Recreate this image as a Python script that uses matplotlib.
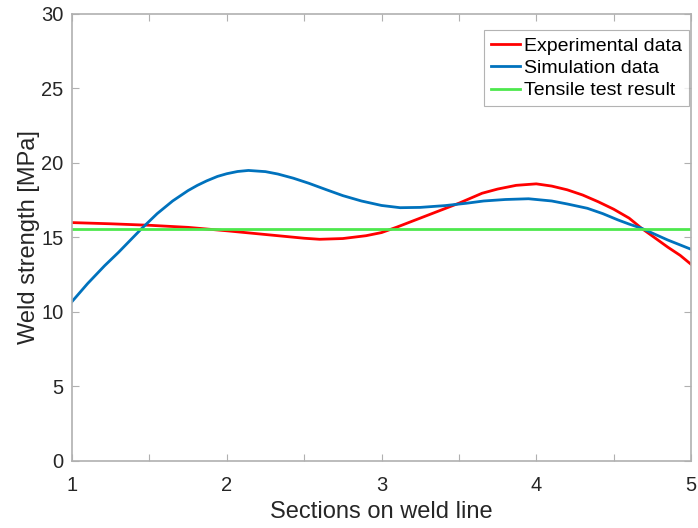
import matplotlib.pyplot as plt
import numpy as np

plt.rcParams['font.family'] = ['Liberation Sans', 'DejaVu Sans']

# values
exp_x = [1.0, 1.25, 1.5, 1.75, 2.0, 2.25, 2.5, 2.6, 2.75, 2.9, 3.0, 3.1, 3.25, 3.4,
         3.5, 3.65, 3.75, 3.87, 4.0, 4.1, 4.2, 4.3, 4.4, 4.5, 4.6, 4.68, 4.77, 4.85, 4.93, 5.0]
exp_y = [16.0, 15.92, 15.82, 15.68, 15.45, 15.2, 14.95, 14.88, 14.93, 15.12, 15.33, 15.7, 16.3, 16.9,
         17.3, 17.97, 18.25, 18.5, 18.6, 18.45, 18.2, 17.85, 17.4, 16.9, 16.3, 15.62, 14.95, 14.35, 13.8, 13.2]

sim_x = [1.0, 1.1, 1.21, 1.3, 1.45, 1.55, 1.65, 1.75, 1.81, 1.87, 1.94, 2.0, 2.07, 2.14, 2.25, 2.33,
         2.43, 2.53, 2.64, 2.75, 2.87, 3.0, 3.12, 3.25, 3.41, 3.55, 3.66, 3.8, 3.95, 4.1, 4.2, 4.33,
         4.43, 4.53, 4.6, 4.68, 4.77, 4.85, 4.93, 5.0]
sim_y = [10.7, 11.9, 13.1, 14.0, 15.6, 16.6, 17.45, 18.15, 18.5, 18.8, 19.1, 19.28, 19.43, 19.5, 19.42, 19.26,
         18.98, 18.64, 18.22, 17.81, 17.45, 17.15, 17.0, 17.02, 17.14, 17.3, 17.45, 17.55, 17.6, 17.45, 17.25, 16.96,
         16.6, 16.17, 15.9, 15.62, 15.2, 14.83, 14.5, 14.21]

tensile = 15.6

fig = plt.figure(figsize=(6.98, 5.28), dpi=100)
ax = fig.add_axes([0.1032, 0.1269, 0.8868, 0.8466])

ax.plot(exp_x, exp_y, color='#ff0000', lw=2, label='Experimental data')
ax.plot(sim_x, sim_y, color='#0072bd', lw=2, label='Simulation data')
ax.plot([1, 5], [tensile, tensile], color='#4de84d', lw=2, label='Tensile test result')

ax.set_xlim(1, 5)
ax.set_ylim(0, 30)
ax.set_xticks([1, 2, 3, 4, 5])
ax.set_xticks(np.arange(1.5, 5, 1), minor=True)
ax.set_yticks(range(0, 31, 5))
ax.tick_params(which='both', direction='in', top=True, right=True, length=5, width=0.8,
               color='#b0b0b0', labelsize=14.5, labelcolor='#262626')
ax.tick_params(axis='x', pad=11)
ax.tick_params(axis='y', pad=6)
for s in ax.spines.values():
    s.set_color('#b0b0b0')
    s.set_linewidth(1.2)

ax.set_xlabel('Sections on weld line', fontsize=17, color='#262626', labelpad=4)
ax.set_ylabel('Weld strength [MPa]', fontsize=17, color='#262626', labelpad=1)

leg = ax.legend(loc='upper right', bbox_to_anchor=(0.997, 0.964), fontsize=14,
                handlelength=1.5, handletextpad=0.2, borderaxespad=0, borderpad=0.35,
                labelspacing=0.25, fancybox=False)
leg.get_frame().set_edgecolor('#a0a0a0')
leg.get_frame().set_linewidth(0.8)

plt.savefig('out.png', dpi=100)
